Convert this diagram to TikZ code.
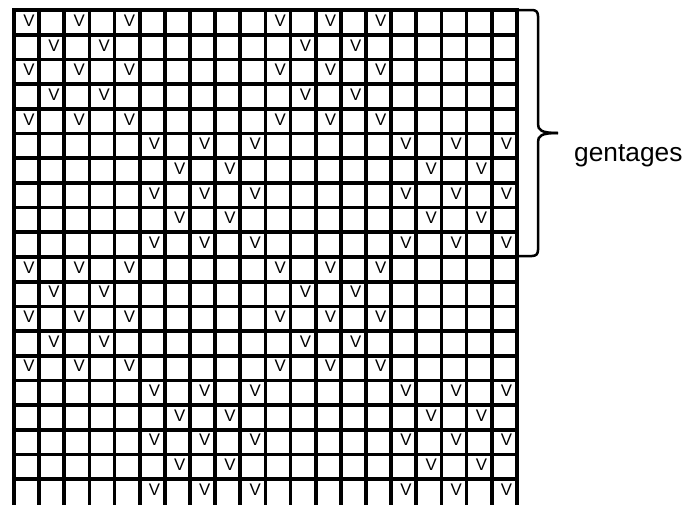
\documentclass[tikz,border=0pt]{standalone}
\usepackage{fontspec}
\setmainfont{Liberation Sans}
\begin{document}
\begin{tikzpicture}[x=1pt,y=-1pt,
  gridline/.style={line width=3.7pt,black,line cap=rect},
  mark v/.style={inner sep=0pt,font=\fontsize{16.8}{17}\selectfont},
  bracepath/.style={line width=2.5pt,black,line cap=butt},
  labeltext/.style={inner sep=0pt,anchor=base west,font=\fontsize{26.3}{28}\selectfont}]
\useasboundingbox (0,0) rectangle (697,504);
\def\xo{14}\def\dx{25.14}
\def\yo{10.2}\def\dy{24.68}
% grid lines
\foreach \i in {0,...,20}{
  \draw[gridline] ({\xo+\i*\dx},\yo) -- ({\xo+\i*\dx},{\yo+20*\dy});
}
\foreach \i in {0,...,19}{
  \draw[gridline] (\xo,{\yo+\i*\dy}) -- ({\xo+20*\dx},{\yo+\i*\dy});
}
% V marks
\foreach \r in {1,...,20}{
  \pgfmathtruncatemacro{\blk}{mod(floor((\r-1)/5),2)}
  \pgfmathtruncatemacro{\rr}{mod(\r-1,5)}
  \pgfmathtruncatemacro{\off}{5*\blk}
  \ifnum\rr=1 \def\cols{2,4,12,14}\else\ifnum\rr=3 \def\cols{2,4,12,14}\else\def\cols{1,3,5,11,13,15}\fi\fi
  \foreach \c in \cols {
    \pgfmathsetmacro{\cc}{\c+\off}
    \node[mark v] (v-\r-\c) at ({\xo+(\cc-0.5)*\dx+2.3},{\yo+(\r-0.5)*\dy-2}) {V};
  }
}
% brace
\coordinate (btop) at (519,10);
\coordinate (bbot) at (519,256);
\coordinate (btip) at (558,133);
\draw[bracepath] (btop) -- (532,10) .. controls (536,10) and (538,12) .. (538,16)
  -- (538,124) .. controls (538,130) and (541,133) .. (btip);
\draw[bracepath] (btip) .. controls (541,133) and (538,136) .. (538,142)
  -- (538,250) .. controls (538,254) and (536,256) .. (532,256) -- (bbot);
\node[labeltext] (lbl) at (574,161.5) {gentages};
\end{tikzpicture}
\end{document}
